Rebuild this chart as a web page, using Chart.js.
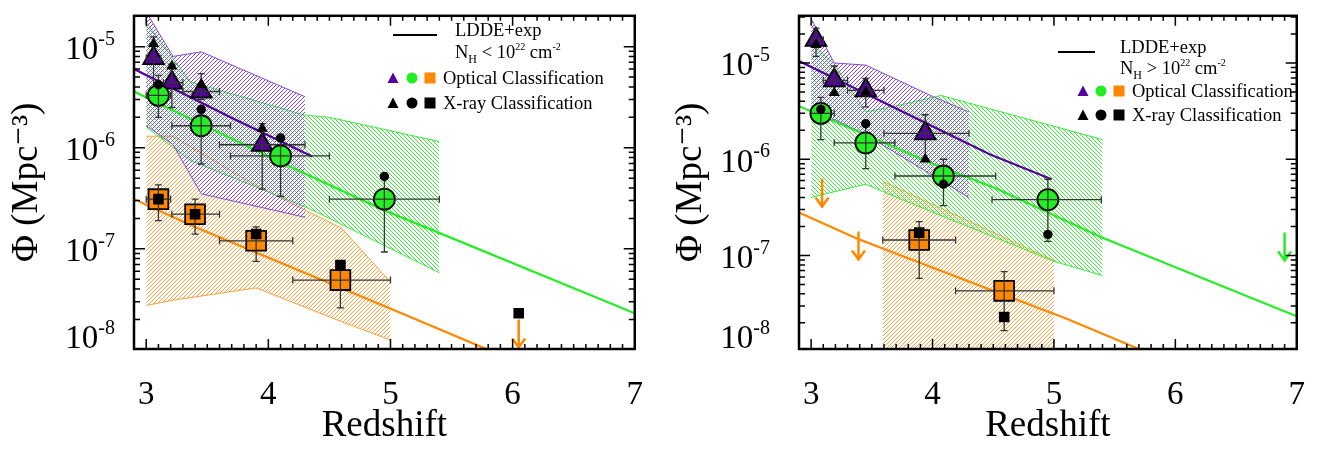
<!DOCTYPE html>
<html>
<head>
<meta charset="utf-8">
<script src="https://cdn.jsdelivr.net/npm/chart.js@4.4.1/dist/chart.umd.min.js"></script>
<style>
  html, body { margin: 0; padding: 0; background: #fff; }
  #wrap { display: flex; width: 1324px; height: 450px; }
  .pane { position: relative; width: 662px; height: 450px; }
</style>
</head>
<body>
<div id="wrap">
  <div class="pane"><canvas id="left"></canvas></div>
  <div class="pane"><canvas id="right"></canvas></div>
</div>
<script>
// axes
const xTicks = [3, 4, 5, 6, 7];
const yDecades = [1e-8, 1e-7, 1e-6, 1e-5];
const xTitle = 'Redshift';
const yTitle = 'Φ (Mpc⁻³)';
const keyModel = 'LDDE+exp';
const keyOptical = 'Optical Classification';
const keyXray = 'X-ray Classification';

// ---------- left panel : N_H < 10^22 ----------
// optical classification (triangles / circles / squares)
const zTriA = [3.06, 3.21, 3.45, 3.95];
const phiTriA = [7.7e-6, 4.4e-6, 3.6e-6, 1.07e-6];
const zTriLoA = [3.0, 3.14, 3.30, 3.60];
const zTriHiA = [3.12, 3.30, 3.60, 4.30];
const phiTriLoA = [3.0e-6, 2.5e-6, 3.0e-6, 3.9e-7];
const phiTriHiA = [1.25e-5, 6.7e-6, 5.4e-6, 1.73e-6];

const zCirA = [3.10, 3.45, 4.10, 4.95];
const phiCirA = [3.3e-6, 1.65e-6, 8.3e-7, 3.1e-7];
const zCirLoA = [3.0, 3.21, 3.69, 4.50];
const zCirHiA = [3.2, 3.69, 4.50, 5.40];
const phiCirLoA = [2.0e-6, 6.9e-7, 3.3e-7, 9.3e-8];
const phiCirHiA = [5.2e-6, 2.4e-6, 1.25e-6, 5.2e-7];

const zSqA = [3.10, 3.40, 3.90, 4.59];
const phiSqA = [3.1e-7, 2.2e-7, 1.2e-7, 4.9e-8];
const zSqLoA = [3.0, 3.21, 3.60, 4.20];
const zSqHiA = [3.2, 3.60, 4.20, 5.00];
const phiSqLoA = [1.9e-7, 1.4e-7, 7.5e-8, 2.6e-8];
const phiSqHiA = [4.3e-7, 3.1e-7, 1.65e-7, 6.9e-8];

// X-ray classification
const phiTriXA = [1.07e-5, 6.4e-6, 4.2e-6, 1.55e-6];
const phiCirXA = [4.2e-6, 2.4e-6, 1.25e-6, 5.2e-7];
const zSqXA = [3.10, 3.40, 3.90, 4.59, 6.05];
const phiSqXA = [3.1e-7, 2.2e-7, 1.4e-7, 6.9e-8, 2.3e-8];

// upper limits
const zLimA = [6.05];
const phiLimA = [2.0e-8];
const limColA = ['orange'];

// LDDE+exp model curves
const zModPurA = [2.9, 3.71, 4.36];
const phiModPurA = [6.0e-6, 1.95e-6, 8.2e-7];
const zModGrnA = [2.9, 4.13, 4.95, 7.0];
const phiModGrnA = [3.6e-6, 6.9e-7, 2.4e-7, 2.3e-8];
const zModOrA = [2.9, 3.39, 5.09, 5.8];
const phiModOrA = [3.1e-7, 1.66e-7, 2.3e-8, 1.0e-8];

// uncertainty bands
const zBandPurA = [3.0, 3.22, 3.45, 4.3];
const phiBandPurHiA = [2.2e-5, 8.0e-6, 8.9e-6, 3.2e-6];
const phiBandPurLoA = [1.66e-6, 1.07e-6, 3.5e-7, 2.05e-7];
const zBandGrnA = [3.0, 3.36, 4.3, 4.5, 5.4];
const phiBandGrnHiA = [1.74e-5, 4.5e-6, 2.1e-6, 2.0e-6, 1.15e-6];
const phiBandGrnLoA = [1.6e-6, 7.5e-7, 2.6e-7, 2.0e-7, 5.8e-8];
const zBandOrA = [3.0, 3.22, 3.9, 4.6, 5.0];
const phiBandOrHiA = [1.3e-6, 1.3e-6, 4.2e-7, 1.6e-7, 4.7e-8];
const phiBandOrLoA = [2.75e-8, 3.1e-8, 4.1e-8, 1.9e-8, 1.25e-8];

// ---------- right panel : N_H > 10^22 ----------
const zTriB = [3.04, 3.19, 3.45, 3.94];
const phiTriB = [1.74e-5, 6.6e-6, 5.2e-6, 1.86e-6];
const zTriLoB = [3.0, 3.10, 3.30, 3.60];
const zTriHiB = [3.1, 3.30, 3.60, 4.30];
const phiTriLoB = [1.17e-5, 4.6e-6, 3.5e-6, 9.5e-7];
const phiTriHiB = [2.3e-5, 9.3e-6, 6.9e-6, 2.9e-6];

const zCirB = [3.08, 3.45, 4.09, 4.95];
const phiCirB = [3.0e-6, 1.48e-6, 6.7e-7, 3.8e-7];
const zCirLoB = [3.0, 3.19, 3.69, 4.49];
const zCirHiB = [3.19, 3.69, 4.52, 5.39];
const phiCirLoB = [1.6e-6, 8.0e-7, 3.3e-7, 1.4e-7];
const phiCirHiB = [4.4e-6, 2.3e-6, 1.0e-6, 6.2e-7];

const zSqB = [3.89, 4.59];
const phiSqB = [1.45e-7, 4.3e-8];
const zSqLoB = [3.59, 4.19];
const zSqHiB = [4.19, 5.0];
const phiSqLoB = [5.8e-8, 1.66e-8];
const phiSqHiB = [2.25e-7, 6.8e-8];

const phiTriXB = [1.55e-5, 4.9e-6, 5.0e-6, 1.0e-6];
const phiCirXB = [3.3e-6, 2.34e-6, 5.5e-7, 1.66e-7];
const zSqXB = [3.89, 4.59];
const phiSqXB = [1.73e-7, 2.3e-8];

const zLimB = [3.09, 3.39, 6.9];
const phiLimB = [6.3e-7, 1.78e-7, 1.74e-7];
const limColB = ['orange', 'orange', 'green'];

const zModPurB = [2.9, 4.47, 4.98];
const phiModPurB = [1.05e-5, 1.13e-6, 6.2e-7];
const zModGrnB = [2.9, 4.0, 4.52, 5.39, 7.0];
const phiModGrnB = [3.56e-6, 9.0e-7, 5.0e-7, 1.55e-7, 2.34e-8];
const zModOrB = [2.9, 3.39, 3.6, 4.52, 5.09, 5.7];
const phiModOrB = [2.8e-7, 1.48e-7, 1.17e-7, 4.2e-8, 2.25e-8, 1.07e-8];

const zBandPurB = [3.0, 3.19, 3.45, 4.0, 4.3];
const phiBandPurHiB = [2.9e-5, 1.0e-5, 9.5e-6, 4.5e-6, 3.1e-6];
const phiBandPurLoB = [2.6e-6, 2.6e-6, 1.8e-6, 6.8e-7, 4.0e-7];
const zBandGrnB = [3.0, 3.19, 3.45, 3.71, 4.07, 5.0, 5.4];
const phiBandGrnHiB = [1.6e-5, 9.7e-6, 3.1e-6, 3.6e-6, 4.6e-6, 2.2e-6, 1.6e-6];
const phiBandGrnLoB = [4.0e-7, 4.6e-7, 5.5e-7, 4.0e-7, 2.6e-7, 8.7e-8, 6.2e-8];
const zBandOrB = [3.59, 5.0];
const phiBandOrHiB = [5.9e-7, 8.9e-8];
const phiBandOrLoB = [1e-9, 1e-9];

// colours
const COL = {
  purple: '#55009e',
  green: '#22ee22',
  orange: '#ff8800'
};
const HATCH = {
  purple: '#8a4ad4',
  green: '#3ae83a',
  orange: '#ffa040'
};
const FONT = "'Liberation Serif', 'DejaVu Serif', serif";

function pts(xs, ys) {
  return xs.map((x, i) => ({ x: x, y: ys[i] }));
}

// diagonal line fill, built pixel by pixel on a 4x4 tile
function hatch(color, dir) {
  const n = 4;
  const c = document.createElement('canvas');
  c.width = n; c.height = n;
  const g = c.getContext('2d');
  g.fillStyle = color;
  for (let i = 0; i < n; i++) {
    g.fillRect(i, dir > 0 ? (n - i) % n : i, 1, 1);
  }
  return g.createPattern(c, 'repeat');
}

function buildDatasets(p) {
  const ds = [];
  p.bands.forEach((b, k) => {
    ds.push({ type: 'line', data: pts(b.x, b.lo), borderColor: HATCH[b.c], borderWidth: 1,
      pointRadius: 0, fill: false, order: 30 - k });
    ds.push({ type: 'line', data: pts(b.x, b.hi), borderColor: HATCH[b.c], borderWidth: 1,
      pointRadius: 0, fill: '-1', backgroundColor: hatch(HATCH[b.c], b.dir), order: 30 - k });
  });
  p.models.forEach(m => {
    ds.push({ type: 'line', data: pts(m.x, m.y), borderColor: COL[m.c], borderWidth: 2.2,
      pointRadius: 0, fill: false, order: 10 });
  });
  p.optical.forEach(s => {
    ds.push({ type: 'scatter', data: pts(s.x, s.y), pointStyle: s.style, pointRadius: s.r,
      backgroundColor: COL[s.c], borderColor: '#000', borderWidth: 1.8, order: 5,
      err: { xlo: s.xlo, xhi: s.xhi, ylo: s.ylo, yhi: s.yhi } });
  });
  p.xray.forEach(s => {
    ds.push({ type: 'scatter', data: pts(s.x, s.y), pointStyle: s.style, pointRadius: s.r,
      backgroundColor: '#000', borderColor: '#000', borderWidth: 0, order: 2 });
  });
  return ds;
}

// error bars right after each optical marker set
const errorBars = {
  id: 'errorBars',
  afterDatasetDraw(chart, args) {
    const ds = chart.data.datasets[args.index];
    if (!ds.err) return;
    const { ctx, chartArea: a, scales: { x, y } } = chart;
    const c = 3.5;
    ctx.save();
    ctx.beginPath(); ctx.rect(a.left, a.top, a.width, a.height); ctx.clip();
    ctx.strokeStyle = '#333';
    ctx.lineWidth = 1.3;
    ctx.beginPath();
    ds.data.forEach((p, i) => {
      const px = x.getPixelForValue(p.x), py = y.getPixelForValue(p.y);
      const x0 = x.getPixelForValue(ds.err.xlo[i]), x1 = x.getPixelForValue(ds.err.xhi[i]);
      const y0 = y.getPixelForValue(ds.err.ylo[i]), y1 = y.getPixelForValue(ds.err.yhi[i]);
      ctx.moveTo(x0, py); ctx.lineTo(x1, py);
      ctx.moveTo(x0, py - c); ctx.lineTo(x0, py + c);
      ctx.moveTo(x1, py - c); ctx.lineTo(x1, py + c);
      ctx.moveTo(px, y0); ctx.lineTo(px, y1);
      ctx.moveTo(px - c, y0); ctx.lineTo(px + c, y0);
      ctx.moveTo(px - c, y1); ctx.lineTo(px + c, y1);
    });
    ctx.stroke();
    ctx.restore();
  }
};

function limitsPlugin(zs, phis, cols) {
  return {
    id: 'limits',
    afterDatasetsDraw(chart) {
      const { ctx, scales: { x, y } } = chart;
      ctx.save();
      ctx.lineWidth = 2.5;
      zs.forEach((z, i) => {
        const px = x.getPixelForValue(z), py = y.getPixelForValue(phis[i]);
        ctx.strokeStyle = COL[cols[i]];
        ctx.beginPath();
        ctx.moveTo(px, py); ctx.lineTo(px, py + 28);
        ctx.moveTo(px - 6.5, py + 19); ctx.lineTo(px, py + 28); ctx.lineTo(px + 6.5, py + 19);
        ctx.stroke();
      });
      ctx.restore();
    }
  };
}

function framePlugin(gap) {
  return {
    id: 'frame',
    afterDraw(chart) {
      const { ctx, chartArea: a, scales: { x, y } } = chart;
      ctx.save();
      ctx.strokeStyle = '#000';
      ctx.lineWidth = 1.5;
      ctx.beginPath();
      for (let k = 29; k <= 70; k++) {
        const px = x.getPixelForValue(k / 10);
        const L = k % 10 === 0 ? 10 : 5;
        ctx.moveTo(px, a.bottom); ctx.lineTo(px, a.bottom - L);
        ctx.moveTo(px, a.top); ctx.lineTo(px, a.top + L);
      }
      for (let e = -9; e <= -4; e++) {
        for (let m = 1; m <= 9; m++) {
          const v = m * Math.pow(10, e);
          if (v < y.min || v > y.max) continue;
          const py = y.getPixelForValue(v);
          const L = m === 1 ? 11 : 6;
          ctx.moveTo(a.left, py); ctx.lineTo(a.left + L, py);
          ctx.moveTo(a.right, py); ctx.lineTo(a.right - L, py);
        }
      }
      ctx.stroke();
      ctx.lineWidth = 2.5;
      ctx.strokeRect(a.left, a.top, a.width, a.height);

      // decade labels 10^n
      ctx.fillStyle = '#000';
      ctx.textBaseline = 'alphabetic';
      ctx.textAlign = 'left';
      yDecades.forEach(v => {
        const ty = y.getPixelForValue(v);
        const cy = Math.min(ty + 1, a.bottom - 12.5);
        const ex = String(Math.round(Math.log10(v)));
        ctx.font = '20px ' + FONT;
        const we = ctx.measureText(ex).width;
        ctx.font = '33px ' + FONT;
        const wb = ctx.measureText('10').width;
        const right = a.left - gap;
        ctx.fillText('10', right - we - wb, cy + 11.5);
        ctx.font = '20px ' + FONT;
        ctx.fillText(ex, right - we, cy - 3);
      });
      ctx.restore();
    }
  };
}

function keyPlugin(k) {
  return {
    id: 'key',
    afterDraw(chart) {
      const ctx = chart.ctx;
      ctx.save();
      ctx.strokeStyle = '#000';
      ctx.lineWidth = 2;
      ctx.beginPath(); ctx.moveTo(k.lineX0, k.lineY); ctx.lineTo(k.lineX1, k.lineY); ctx.stroke();
      ctx.fillStyle = '#000';
      ctx.textAlign = 'left';
      ctx.textBaseline = 'alphabetic';
      const put = (t, size, dy, x, y) => {
        ctx.font = size + 'px ' + FONT;
        ctx.fillText(t, x, y + dy);
        return x + ctx.measureText(t).width;
      };
      put(keyModel, 18.5, 0, k.textX, k.base1);
      let x = put('N', 18.5, 0, k.textX, k.base2);
      x = put('H', 12, 5, x, k.base2);
      x = put(' ' + k.rel + ' 10', 18.5, 0, x, k.base2);
      x = put('22', 10, -8, x, k.base2);
      x = put(' cm', 18.5, 0, x, k.base2);
      put('-2', 10, -8, x, k.base2);

      const rows = [
        { y: k.sym1, cols: [COL.purple, COL.green, COL.orange], label: keyOptical, base: k.base3 },
        { y: k.sym2, cols: ['#000', '#000', '#000'], label: keyXray, base: k.base4 }
      ];
      rows.forEach(r => {
        const [tx, cx, sx] = k.symX;
        ctx.fillStyle = r.cols[0];
        ctx.beginPath();
        ctx.moveTo(tx, r.y - 5.5); ctx.lineTo(tx + 5.5, r.y + 5); ctx.lineTo(tx - 5.5, r.y + 5);
        ctx.closePath(); ctx.fill();
        ctx.fillStyle = r.cols[1];
        ctx.beginPath(); ctx.arc(cx, r.y, 5.5, 0, Math.PI * 2); ctx.fill();
        ctx.fillStyle = r.cols[2];
        ctx.fillRect(sx - 5.5, r.y - 5.5, 11, 11);
        ctx.fillStyle = '#000';
        put(r.label, 18.5, 0, k.textX2, r.base);
      });
      ctx.restore();
    }
  };
}

function makeChart(id, p) {
  return new Chart(document.getElementById(id), {
    type: 'scatter',
    data: { datasets: buildDatasets(p) },
    options: {
      responsive: true,
      maintainAspectRatio: false,
      animation: false,
      events: [],
      devicePixelRatio: 1,
      layout: { padding: { left: 0, right: p.padRight, top: 3, bottom: 0 } },
      plugins: { legend: { display: false }, tooltip: { enabled: false } },
      scales: {
        x: {
          type: 'linear', min: 2.9, max: 7,
          grid: { display: false }, border: { display: false },
          afterBuildTicks: s => { s.ticks = xTicks.map(v => ({ value: v })); },
          afterFit: s => { s.height = 101; },
          ticks: { color: '#000', padding: 19, font: { family: FONT, size: 33 }, callback: v => String(v) },
          title: { display: true, text: xTitle, color: '#000', font: { family: FONT, size: 37 },
            padding: { top: 0, bottom: 2 } }
        },
        y: {
          type: 'logarithmic', min: p.yMin, max: p.yMax,
          grid: { display: false }, border: { display: false },
          afterBuildTicks: s => { s.ticks = yDecades.map(v => ({ value: v })); },
          afterFit: s => { s.width = p.yWidth; },
          ticks: { display: false },
          title: { display: true, text: yTitle, color: '#000', font: { family: FONT, size: 37 },
            padding: { top: p.titlePad, bottom: 0 } }
        }
      }
    },
    plugins: [errorBars, limitsPlugin(p.lim.z, p.lim.phi, p.lim.col), framePlugin(p.labelGap), keyPlugin(p.key)]
  });
}

const panelA = {
  yMin: 1.02e-8, yMax: 2.02e-5, yWidth: 134, padRight: 21, labelGap: 19, titlePad: 5,
  bands: [
    { x: zBandOrA, lo: phiBandOrLoA, hi: phiBandOrHiA, c: 'orange', dir: 1 },
    { x: zBandGrnA, lo: phiBandGrnLoA, hi: phiBandGrnHiA, c: 'green', dir: -1 },
    { x: zBandPurA, lo: phiBandPurLoA, hi: phiBandPurHiA, c: 'purple', dir: 1 }
  ],
  models: [
    { x: zModOrA, y: phiModOrA, c: 'orange' },
    { x: zModGrnA, y: phiModGrnA, c: 'green' },
    { x: zModPurA, y: phiModPurA, c: 'purple' }
  ],
  optical: [
    { x: zSqA, y: phiSqA, xlo: zSqLoA, xhi: zSqHiA, ylo: phiSqLoA, yhi: phiSqHiA, style: 'rect', r: 14, c: 'orange' },
    { x: zCirA, y: phiCirA, xlo: zCirLoA, xhi: zCirHiA, ylo: phiCirLoA, yhi: phiCirHiA, style: 'circle', r: 10.5, c: 'green' },
    { x: zTriA, y: phiTriA, xlo: zTriLoA, xhi: zTriHiA, ylo: phiTriLoA, yhi: phiTriHiA, style: 'triangle', r: 12, c: 'purple' }
  ],
  xray: [
    { x: zSqXA, y: phiSqXA, style: 'rect', r: 7.5 },
    { x: zCirA, y: phiCirXA, style: 'circle', r: 4.7 },
    { x: zTriA, y: phiTriXA, style: 'triangle', r: 6.5 }
  ],
  lim: { z: zLimA, phi: phiLimA, col: limColA },
  key: { lineX0: 393, lineX1: 437, lineY: 35, textX: 455, base1: 36, base2: 58, rel: '<',
    symX: [393, 412, 430], sym1: 78, sym2: 103, textX2: 443, base3: 84, base4: 109 }
};

const panelB = {
  yMin: 1.07e-8, yMax: 3.09e-5, yWidth: 137, padRight: 19, labelGap: 29, titlePad: 7,
  bands: [
    { x: zBandOrB, lo: phiBandOrLoB, hi: phiBandOrHiB, c: 'orange', dir: 1 },
    { x: zBandGrnB, lo: phiBandGrnLoB, hi: phiBandGrnHiB, c: 'green', dir: -1 },
    { x: zBandPurB, lo: phiBandPurLoB, hi: phiBandPurHiB, c: 'purple', dir: 1 }
  ],
  models: [
    { x: zModOrB, y: phiModOrB, c: 'orange' },
    { x: zModGrnB, y: phiModGrnB, c: 'green' },
    { x: zModPurB, y: phiModPurB, c: 'purple' }
  ],
  optical: [
    { x: zSqB, y: phiSqB, xlo: zSqLoB, xhi: zSqHiB, ylo: phiSqLoB, yhi: phiSqHiB, style: 'rect', r: 14, c: 'orange' },
    { x: zCirB, y: phiCirB, xlo: zCirLoB, xhi: zCirHiB, ylo: phiCirLoB, yhi: phiCirHiB, style: 'circle', r: 10.5, c: 'green' },
    { x: zTriB, y: phiTriB, xlo: zTriLoB, xhi: zTriHiB, ylo: phiTriLoB, yhi: phiTriHiB, style: 'triangle', r: 12, c: 'purple' }
  ],
  xray: [
    { x: zSqXB, y: phiSqXB, style: 'rect', r: 7.5 },
    { x: zCirB, y: phiCirXB, style: 'circle', r: 4.7 },
    { x: zTriB, y: phiTriXB, style: 'triangle', r: 6.5 }
  ],
  lim: { z: zLimB, phi: phiLimB, col: limColB },
  key: { lineX0: 396, lineX1: 433, lineY: 52, textX: 458, base1: 53, base2: 74, rel: '>',
    symX: [421, 439, 457], sym1: 91, sym2: 115, textX2: 470, base3: 97, base4: 121 }
};

makeChart('left', panelA);
makeChart('right', panelB);
</script>
</body>
</html>
